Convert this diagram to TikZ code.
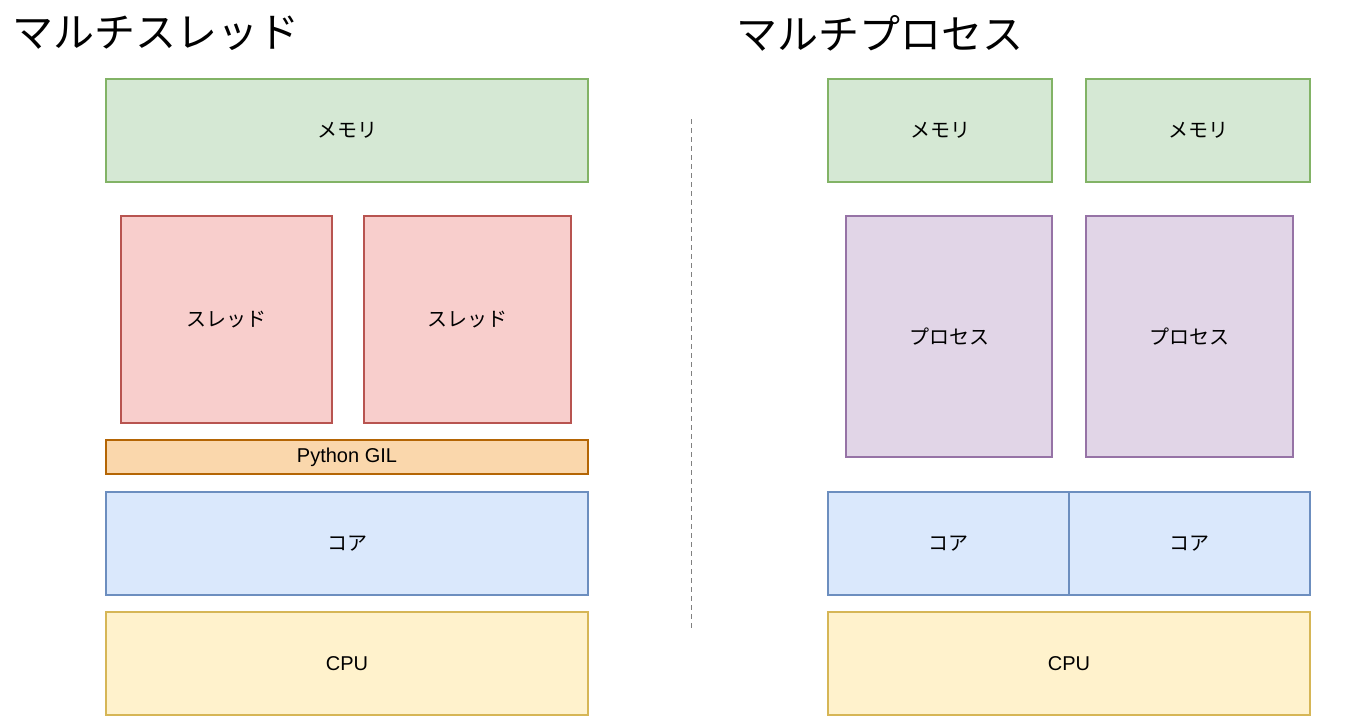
\documentclass[tikz,border=0pt]{standalone}
\usepackage{fontspec}
\setmainfont{Liberation Sans}
\newfontfamily\jafont{Noto Sans CJK JP}
\definecolor{memfill}{HTML}{D5E8D4}
\definecolor{memline}{HTML}{82B366}
\definecolor{thrfill}{HTML}{F8CECC}
\definecolor{thrline}{HTML}{B85450}
\definecolor{gilfill}{HTML}{FAD7AC}
\definecolor{gilline}{HTML}{B46504}
\definecolor{corefill}{HTML}{DAE8FC}
\definecolor{coreline}{HTML}{6C8EBF}
\definecolor{cpufill}{HTML}{FFF2CC}
\definecolor{cpuline}{HTML}{D6B656}
\definecolor{procfill}{HTML}{E1D5E7}
\definecolor{procline}{HTML}{9673A6}
\begin{document}
\begin{tikzpicture}[x=1pt, y=-1pt,
        box/.style={rectangle, line width=1.2pt, inner sep=0pt,
            font=\fontsize{20}{24}\selectfont},
        mem/.style={box, draw=memline, fill=memfill, font=\jafont\fontsize{20}{24}\selectfont},
        thread/.style={box, draw=thrline, fill=thrfill, font=\jafont\fontsize{20}{24}\selectfont},
        proc/.style={box, draw=procline, fill=procfill, font=\jafont\fontsize{20}{24}\selectfont},
        core/.style={box, draw=coreline, fill=corefill, font=\jafont\fontsize{20}{24}\selectfont},
        gil/.style={box, draw=gilline, fill=gilfill},
        cpu/.style={box, draw=cpuline, fill=cpufill},
        title/.style={anchor=west, inner sep=0pt, font=\jafont\fontsize{41}{48}\selectfont}
    ]
    \useasboundingbox (0,0) rectangle (1348,723);
    % Titles
    \node[title] (tthread) at (12, 33) {マルチスレッド};
    \node[title] (tproc) at (736, 33) {マルチプロセス};
    % Multi-thread side
    \node[mem, minimum width=482pt, minimum height=103pt] (mem) at (347, 130.5) {メモリ};
    \node[thread, minimum width=211pt, minimum height=207pt] (thr1) at (226.5, 319.5) {スレッド};
    \node[thread, minimum width=207pt, minimum height=207pt] (thr2) at (467.5, 319.5) {スレッド};
    \node[gil, minimum width=482pt, minimum height=34pt] (gil) at (347, 457) {Python GIL};
    \node[core, minimum width=482pt, minimum height=103pt] (core) at (347, 543.5) {コア};
    \node[cpu, minimum width=482pt, minimum height=103pt] (cpu) at (347, 663.5) {CPU};
    % Divider
    \coordinate (dtop) at (691, 119);
    \coordinate (dbot) at (691, 630);
    \draw[gray, line width=1pt, dash pattern=on 5pt off 4pt] (dtop) -- (dbot);
    % Multi-process side
    \node[mem, minimum width=224pt, minimum height=103pt] (mem1) at (940, 130.5) {メモリ};
    \node[mem, minimum width=224pt, minimum height=103pt] (mem2) at (1198, 130.5) {メモリ};
    \node[proc, minimum width=206pt, minimum height=241pt] (proc1) at (949, 336.5) {プロセス};
    \node[proc, minimum width=207pt, minimum height=241pt] (proc2) at (1189.5, 336.5) {プロセス};
    \node[core, minimum width=241pt, minimum height=103pt] (core1) at (948.5, 543.5) {コア};
    \node[core, minimum width=241pt, minimum height=103pt] (core2) at (1189.5, 543.5) {コア};
    \node[cpu, minimum width=482pt, minimum height=103pt] (cpu2) at (1069, 663.5) {CPU};
\end{tikzpicture}
\end{document}
